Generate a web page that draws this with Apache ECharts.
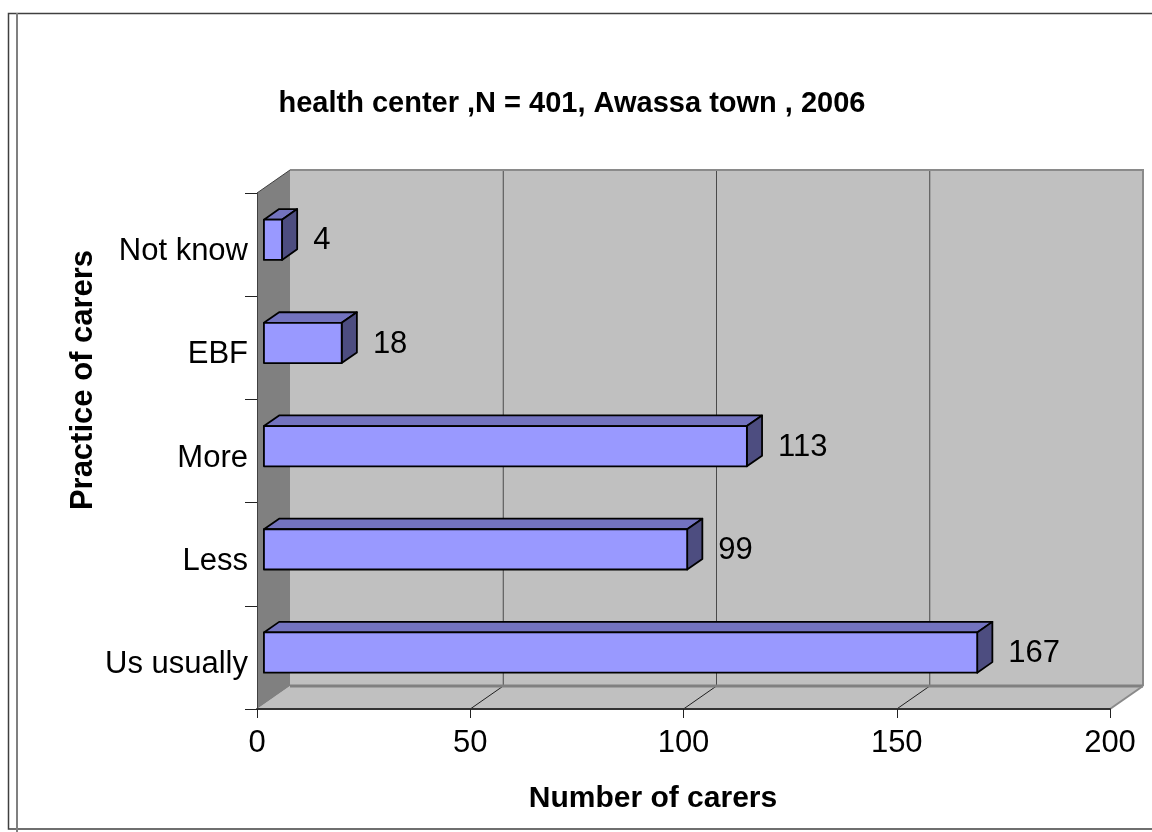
<!DOCTYPE html>
<html>
<head>
<meta charset="utf-8">
<title>Practice of carers</title>
<script src="https://cdn.jsdelivr.net/npm/echarts@6/dist/echarts.min.js"></script>
<style>
  html, body { margin: 0; padding: 0; background: #ffffff; }
  #chart { width: 1152px; height: 832px; }
</style>
</head>
<body>
<div id="chart"></div>
<script>
// Categories listed bottom to top, as the category axis stacks them
const categories = ['Us usually', 'Less', 'More', 'EBF', 'Not know'];
const carers = [167, 99, 113, 18, 4];
const valueTicks = [0, 50, 100, 150, 200];

const titleText = 'health center ,N = 401, Awassa town , 2006';
const xName = 'Number of carers';
const yName = 'Practice of carers';

const FONT = '"Liberation Sans", Arial, Helvetica, sans-serif';

// 3D look: depth vector of the chart box and where bars sit inside it
const DEPTH = [33, -23];
const FACE_AT = 0.21;   // front face of the bars, fraction of the depth
const BAR_DEPTH = 0.46; // bar thickness, fraction of the depth

const chart = echarts.init(document.getElementById('chart'), null, { renderer: 'canvas' });

function line(x1, y1, x2, y2, stroke, width) {
  return { type: 'line', shape: { x1, y1, x2, y2 }, style: { stroke, lineWidth: width }, silent: true };
}

// Walls, floor and gridlines of the box, all taken from the grid's own coordinates
function renderBox(params, api) {
  const cs = params.coordSys;
  const x0 = cs.x, x1 = cs.x + cs.width, yT = cs.y, yB = cs.y + cs.height;
  const [dx, dy] = DEPTH;
  const kids = [];
  // back wall
  kids.push({ type: 'polygon', shape: { points: [[x0 + dx, yT + dy], [x1 + dx, yT + dy], [x1 + dx, yB + dy], [x0 + dx, yB + dy]] },
              style: { fill: '#c0c0c0' }, silent: true });
  // floor
  kids.push({ type: 'polygon', shape: { points: [[x0, yB], [x0 + dx, yB + dy], [x1 + dx, yB + dy], [x1, yB]] },
              style: { fill: '#c0c0c0' }, silent: true });
  // left wall
  kids.push({ type: 'polygon', shape: { points: [[x0, yT], [x0 + dx, yT + dy], [x0 + dx, yB + dy], [x0, yB]] },
              style: { fill: '#808080' }, silent: true });
  // gridlines on the back wall and their traces across the floor
  valueTicks.forEach(function (t) {
    if (t === valueTicks[0] || t === valueTicks[valueTicks.length - 1]) return;
    const px = api.coord([t, 0])[0];
    kids.push(line(px + dx, yT + dy, px + dx, yB + dy, '#4a4a4a', 1));
    kids.push(line(px, yB, px + dx, yB + dy, '#202020', 1));
  });
  // box edges
  kids.push(line(x0 + dx, yT + dy, x1 + dx + 1, yT + dy, '#8a8a8a', 2));
  kids.push(line(x1 + dx, yT + dy, x1 + dx, yB + dy, '#8a8a8a', 2));
  kids.push(line(x0 + dx, yB + dy, x1 + dx, yB + dy, '#808080', 3));
  kids.push(line(x1, yB, x1 + dx, yB + dy, '#8a8a8a', 2));
  kids.push(line(x0, yT, x0 + dx, yT + dy, '#404040', 1));
  return { type: 'group', children: kids };
}

// One 3D bar: front face, top face, side face and its value label
function renderBar(params, api) {
  const val = api.value(0);
  const cat = api.value(1);
  const p0 = api.coord([0, cat]);
  const p1 = api.coord([val, cat]);
  const band = api.size([0, 1])[1];
  const h = band * 0.39;
  const ox = DEPTH[0] * FACE_AT, oy = DEPTH[1] * FACE_AT;
  const bx = DEPTH[0] * BAR_DEPTH, by = DEPTH[1] * BAR_DEPTH;
  const L = p0[0] + ox, R = p1[0] + ox + 1;
  const cy = p0[1] + oy;
  const T = cy - h / 2, B = cy + h / 2;
  const edge = { stroke: '#000000', lineWidth: 1.8, lineJoin: 'round' };
  return {
    type: 'group',
    children: [
      { type: 'polygon', shape: { points: [[L, T], [L + bx, T + by], [R + bx, T + by], [R, T]] },
        style: Object.assign({ fill: '#7373bf' }, edge) },
      { type: 'polygon', shape: { points: [[R, T], [R + bx, T + by], [R + bx, B + by], [R, B]] },
        style: Object.assign({ fill: '#4d4d80' }, edge) },
      { type: 'rect', shape: { x: L, y: T, width: R - L, height: B - T },
        style: Object.assign({ fill: '#9999ff' }, edge) },
      { type: 'text',
        style: { text: String(val), x: R + bx + 16, y: cy + 1,
                 font: '31px ' + FONT, fill: '#000000',
                 align: 'left', verticalAlign: 'middle',
                 textAlign: 'left', textVerticalAlign: 'middle' } }
    ]
  };
}

const option = {
  backgroundColor: '#ffffff',
  animation: false,
  title: {
    text: titleText,
    left: 567,
    textAlign: 'center',
    top: 84,
    textStyle: { fontFamily: FONT, fontSize: 29, fontWeight: 'bold', color: '#000000' }
  },
  grid: { left: 257, right: 42, top: 193, bottom: 123, containLabel: false },
  xAxis: {
    type: 'value',
    min: 0,
    max: 200,
    interval: 50,
    splitLine: { show: false },
    axisLine: { show: true, lineStyle: { color: '#333333', width: 2 } },
    axisTick: { show: true, length: 9, lineStyle: { color: '#222222', width: 1 } },
    axisLabel: { fontFamily: FONT, fontSize: 31, color: '#000000', margin: 19,
                 formatter: function (v) { return valueTicks.indexOf(v) >= 0 ? String(v) : ''; } }
  },
  yAxis: {
    type: 'category',
    data: categories,
    axisLine: { show: true, lineStyle: { color: '#404040', width: 1 } },
    axisTick: { show: true, length: 12, interval: 0, lineStyle: { color: '#222222', width: 1 } },
    axisLabel: {
      margin: 9,
      formatter: function (v) { return '{c|' + v + '}'; },
      rich: { c: { fontFamily: FONT, fontSize: 31, color: '#000000', padding: [14, 0, 0, 0] } }
    }
  },
  graphic: [
    { type: 'rect', shape: { x: 8.5, y: 13.5, width: 1150, height: 815.5 },
      style: { fill: 'none', stroke: '#404040', lineWidth: 1.5 }, silent: true, z: 100 },
    { type: 'line', shape: { x1: 17, y1: 13, x2: 17, y2: 832 },
      style: { stroke: '#808080', lineWidth: 2 }, silent: true, z: 100 },
    { type: 'text', x: 653, y: 799,
      style: { text: xName, font: 'bold 30px ' + FONT, fill: '#000000',
               align: 'center', verticalAlign: 'middle', textAlign: 'center', textVerticalAlign: 'middle' } },
    { type: 'text', x: 83, y: 380, rotation: Math.PI / 2,
      style: { text: yName, font: 'bold 31px ' + FONT, fill: '#000000',
               align: 'center', verticalAlign: 'middle', textAlign: 'center', textVerticalAlign: 'middle' } }
  ],
  series: [
    {
      type: 'custom',
      name: 'box',
      z: -1,
      silent: true,
      renderItem: renderBox,
      data: [[0, 0]],
      encode: { x: 0, y: 1 },
      tooltip: { show: false }
    },
    {
      type: 'custom',
      name: 'carers',
      z: 3,
      renderItem: renderBar,
      data: carers.map(function (v, i) { return [v, i]; }),
      encode: { x: 0, y: 1 }
    }
  ]
};

chart.setOption(option);
</script>
</body>
</html>
